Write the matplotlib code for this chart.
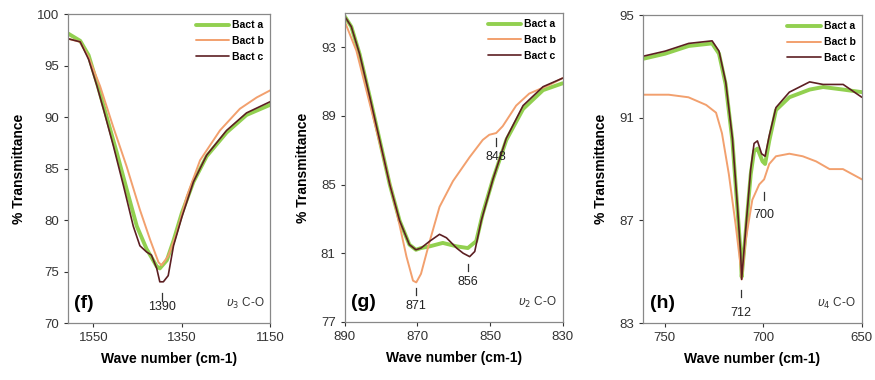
import matplotlib.pyplot as plt

plt.rcParams['font.family'] = ['Liberation Sans', 'DejaVu Sans']

# series names and colours
labels = ['Bact a', 'Bact b', 'Bact c']
colors = ['#92d050', '#f2a06e', '#5c1f22']
widths = [2.8, 1.4, 1.2]

# ---- (f) u3 C-O region ----
f_wn_a = [1607, 1580, 1561, 1542, 1520, 1497, 1475, 1452, 1430, 1407, 1400, 1384,
          1369, 1350, 1324, 1294, 1249, 1204, 1150]
f_a = [98.1, 97.4, 96.0, 93.3, 90.0, 86.5, 83.0, 79.4, 77.2, 75.5, 75.3, 76.1,
       78.0, 80.7, 83.7, 86.2, 88.5, 90.2, 91.2]
f_wn_b = [1607, 1580, 1561, 1535, 1505, 1475, 1445, 1422, 1403, 1396, 1381, 1362,
          1339, 1309, 1264, 1219, 1181, 1150]
f_b = [97.6, 97.3, 95.8, 93.0, 89.0, 85.2, 81.0, 78.1, 75.9, 75.6, 76.5, 78.7,
       82.3, 85.8, 88.7, 90.8, 91.9, 92.6]
f_wn_c = [1607, 1580, 1561, 1542, 1527, 1505, 1482, 1460, 1445, 1430, 1419, 1407,
          1400, 1392, 1381, 1369, 1350, 1324, 1294, 1249, 1204, 1150]
f_c = [97.6, 97.3, 95.6, 93.0, 90.7, 87.2, 83.3, 79.4, 77.5, 76.9, 76.6, 75.3,
       74.0, 74.0, 74.6, 77.5, 80.3, 83.7, 86.3, 88.7, 90.4, 91.5]

# ---- (g) u2 C-O region ----
g_wn_a = [890, 888.2, 885.9, 883.1, 880.4, 877.6, 874.9, 872.2, 870.4, 869, 866.6,
          863, 859.2, 856.1, 853.8, 852, 849.2, 845.5, 840.9, 835.4, 830]
g_a = [94.8, 94.2, 92.6, 90.1, 87.6, 85.0, 82.9, 81.5, 81.2, 81.3, 81.4,
       81.6, 81.4, 81.3, 81.7, 83.3, 85.3, 87.6, 89.4, 90.5, 90.9]
g_wn_b = [890, 886.8, 883.1, 879.4, 875.8, 873, 871.2, 870.3, 869, 866.6, 863.9,
          860.2, 855.6, 852, 850.2, 848.3, 846.5, 842.8, 839.2, 833.7, 830]
g_b = [94.5, 92.8, 89.7, 86.6, 83.5, 80.8, 79.4, 79.3, 79.8, 81.7, 83.7,
       85.2, 86.6, 87.6, 87.9, 88.0, 88.4, 89.6, 90.3, 90.8, 91.2]
g_wn_c = [890, 888.2, 885.9, 883.1, 880.4, 877.6, 874.9, 872.2, 870.4, 869, 866.6,
          863.9, 862, 859.2, 857.4, 855.6, 854.2, 852.4, 849.2, 845.5, 840.9, 835.4, 830]
g_c = [94.8, 94.2, 92.6, 90.1, 87.6, 85.0, 82.9, 81.5, 81.2, 81.3, 81.7,
       82.1, 81.9, 81.3, 81.0, 80.8, 81.1, 82.9, 85.3, 87.7, 89.6, 90.7, 91.2]

# ---- (h) u4 C-O region ----
h_wn_a = [761, 749.8, 737.9, 726, 722.5, 719.1, 715.7, 713.2, 711.5, 711, 709,
          706.4, 704.7, 703, 700.4, 699.1, 697, 693.6, 686.8, 676.5, 669.7, 659.5, 650]
h_a = [93.3, 93.5, 93.8, 93.9, 93.5, 92.3, 90.1, 87.5, 85.7, 84.8, 86.5,
       88.8, 89.7, 89.8, 89.3, 89.2, 90.1, 91.3, 91.8, 92.1, 92.2, 92.1, 92.0]
h_wn_b = [761, 748, 738, 729, 724, 721, 717.5, 714, 711.5, 711, 709, 705.6, 702.1,
          699.6, 697, 693.6, 686.8, 680, 673.2, 666.4, 659.6, 650]
h_b = [91.9, 91.9, 91.8, 91.5, 91.2, 90.4, 88.8, 86.8, 85.2, 84.7, 86.2, 87.8, 88.4,
       88.6, 89.2, 89.5, 89.6, 89.5, 89.3, 89.0, 89.0, 88.6]
h_wn_c = [761, 749.8, 737.9, 726, 722.5, 719.1, 715.7, 713.2, 711.5, 711, 709,
          706.4, 704.7, 703, 700.9, 699.1, 697, 693.6, 686.8, 676.5, 669.7, 659.5, 650]
h_c = [93.4, 93.6, 93.9, 94.0, 93.6, 92.4, 90.2, 87.6, 85.7, 84.7, 86.6,
       89.0, 90.0, 90.1, 89.6, 89.5, 90.3, 91.4, 92.0, 92.4, 92.3, 92.3, 91.8]

panels = [
    dict(pos=[0.078, 0.150, 0.231, 0.813], xlim=(1607, 1150), ylim=(70, 100),
         xticks=[1550, 1350, 1150], yticks=[70, 75, 80, 85, 90, 95, 100],
         series=[(f_wn_a, f_a), (f_wn_b, f_b), (f_wn_c, f_c)],
         tag='(f)', mode=r'$\upsilon_3$ C-O',
         peaks=[(1395, 72.9, 71.6, '1390')]),
    dict(pos=[0.394, 0.153, 0.249, 0.813], xlim=(890, 830), ylim=(77, 95),
         xticks=[890, 870, 850, 830], yticks=[77, 81, 85, 89, 93],
         series=[(g_wn_a, g_a), (g_wn_b, g_b), (g_wn_c, g_c)],
         tag='(g)', mode=r'$\upsilon_2$ C-O',
         peaks=[(870.5, 79.0, 77.9, '871'), (856, 80.4, 79.3, '856'),
                (848.3, 87.7, 86.6, '848')]),
    dict(pos=[0.735, 0.150, 0.250, 0.810], xlim=(761, 650), ylim=(83, 95),
         xticks=[750, 700, 650], yticks=[83, 87, 91, 95],
         series=[(h_wn_a, h_a), (h_wn_b, h_b), (h_wn_c, h_c)],
         tag='(h)', mode=r'$\upsilon_4$ C-O',
         peaks=[(711.5, 84.3, 83.4, '712'), (699.5, 88.1, 87.2, '700')]),
]

fig = plt.figure(figsize=(8.75, 3.8), dpi=100)

for p in panels:
    ax = fig.add_axes(p['pos'])
    for (x, y), lab, c, lw in zip(p['series'], labels, colors, widths):
        ax.plot(x, y, color=c, lw=lw, label=lab, solid_capstyle='round')
    ax.set_xlim(*p['xlim'])
    ax.set_ylim(*p['ylim'])
    ax.set_xticks(p['xticks'])
    ax.set_yticks(p['yticks'])
    ax.tick_params(labelsize=9.5, colors='#333333', length=3, width=0.8)
    for s in ax.spines.values():
        s.set_color('#888888')
        s.set_linewidth(0.9)
    ax.set_xlabel('Wave number (cm-1)', fontsize=10, fontweight='bold', labelpad=6)
    ax.set_ylabel('% Transmittance', fontsize=10, fontweight='bold', labelpad=8)

    # peak markers: short vertical dash with the wave number below
    for xp, ytop, ytxt, txt in p['peaks']:
        span = p['ylim'][1] - p['ylim'][0]
        ax.plot([xp, xp], [ytop, ytop - span * 0.025], color='#333333', lw=0.9)
        ax.text(xp, ytxt, txt, ha='center', va='center', fontsize=9, color='#222222')

    ax.text(0.03, 0.035, p['tag'], transform=ax.transAxes, fontsize=14,
            fontweight='bold', ha='left', va='bottom')
    ax.text(0.97, 0.04, p['mode'], transform=ax.transAxes, fontsize=8.5,
            ha='right', va='bottom', color='#333333')

    leg = ax.legend(loc='upper right', frameon=False, fontsize=7.5,
                    handlelength=3.2, handletextpad=0.3, labelspacing=0.55,
                    borderaxespad=0.2)
    for t in leg.get_texts():
        t.set_fontweight('bold')

fig.savefig('out.png', dpi=100)
